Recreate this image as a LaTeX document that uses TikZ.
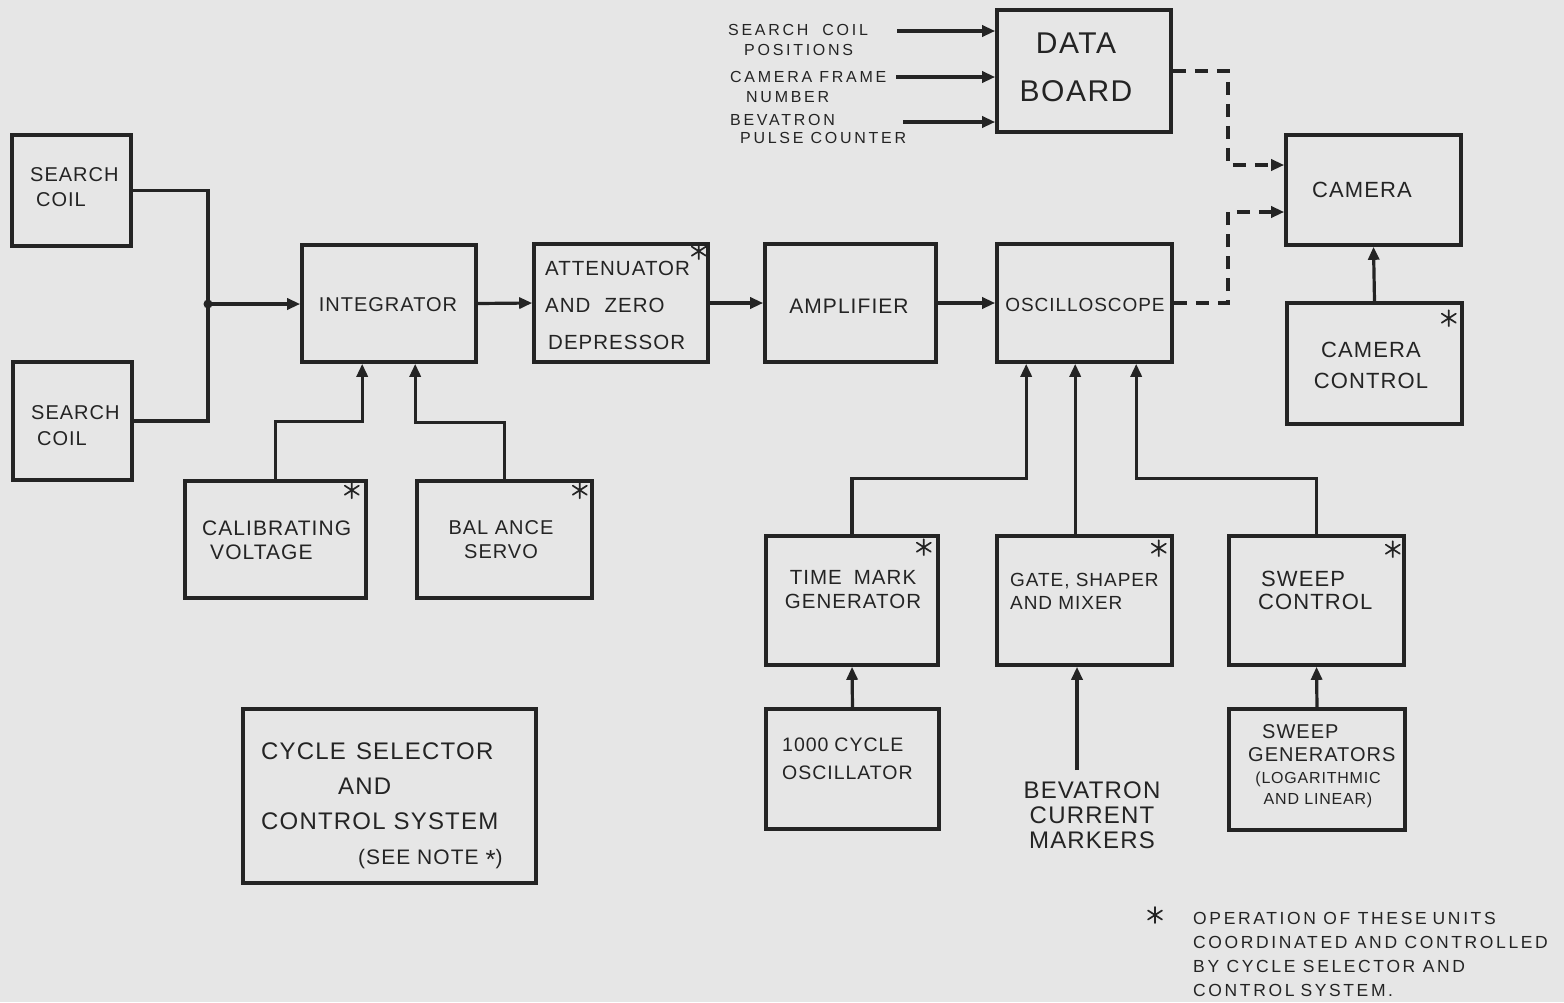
\documentclass[tikz,border=0pt]{standalone}
\usepackage{fontspec}
\setmainfont{Liberation Sans}[LetterSpace=5]
\newfontfamily\widefont{Liberation Sans}[LetterSpace=17]
\newfontfamily\notefont{Liberation Sans}[LetterSpace=15]
\usetikzlibrary{arrows.meta,calc}
\definecolor{bg}{HTML}{E6E6E6}
\definecolor{ink}{HTML}{242424}
\begin{document}
\begin{tikzpicture}[x=1pt,y=-1pt,
  box/.style={draw=ink,line width=3.6pt,rectangle,inner sep=0pt},
  txt/.style={text=ink,inner sep=0pt,align=center},
  ltxt/.style={text=ink,inner sep=0pt,align=left,anchor=west},
  wire/.style={draw=ink,line width=3.2pt},
  dwire/.style={wire,dash pattern=on 13pt off 9pt},
  >={Triangle[length=13pt,width=11pt]},
  astx/.pic={\draw[ink,line width=1.7pt,line cap=round] (0,-8)--(0,8) (-7,-4.5)--(7,4.5) (-7,4.5)--(7,-4.5);}
]
\fill[bg] (0,0) rectangle (1564,1002);
\useasboundingbox (0,0) rectangle (1564,1002);

% boxes
\node[box,minimum width=119pt,minimum height=111pt] (sc1) at (71.5,190.5) {};
\node[box,minimum width=119pt,minimum height=118pt] (sc2) at (72.5,421) {};
\node[box,minimum width=174pt,minimum height=117pt] (integ) at (389,303.5) {};
\node[box,minimum width=174pt,minimum height=118pt] (atten) at (621,303) {};
\node[box,minimum width=171pt,minimum height=118pt] (amp) at (850.5,303) {};
\node[box,minimum width=175pt,minimum height=118pt] (osc) at (1084.5,303) {};
\node[box,minimum width=174pt,minimum height=122pt] (data) at (1084,71) {};
\node[box,minimum width=175pt,minimum height=110pt] (cam) at (1373.5,190) {};
\node[box,minimum width=175pt,minimum height=121pt] (camc) at (1374.5,363.5) {};
\node[box,minimum width=181pt,minimum height=117pt] (cal) at (275.5,539.5) {};
\node[box,minimum width=175pt,minimum height=117pt] (bal) at (504.5,539.5) {};
\node[box,minimum width=172pt,minimum height=129pt] (tmg) at (852,600.5) {};
\node[box,minimum width=175pt,minimum height=129pt] (gate) at (1084.5,600.5) {};
\node[box,minimum width=175pt,minimum height=129pt] (swc) at (1316.5,600.5) {};
\node[box,minimum width=173pt,minimum height=120pt] (osck) at (852.5,769) {};
\node[box,minimum width=176pt,minimum height=121pt] (swg) at (1317,769.5) {};
\node[box,minimum width=293pt,minimum height=174pt] (cyc) at (389.5,796) {};

% box texts
\node[ltxt,font=\fontsize{20}{25}\selectfont] (sc1t) at (30,187) {SEARCH\\\hspace*{6pt}COIL};
\node[ltxt,font=\fontsize{20}{26}\selectfont] (sc2t) at (31,426) {SEARCH\\\hspace*{6pt}COIL};
\node[txt,font=\fontsize{20}{25}\selectfont] (integt) at (388,305) {INTEGRATOR};
\node[ltxt,font=\fontsize{20.5}{37}\selectfont] (attent) at (545,305) {ATTENUATOR\\AND\hspace{14pt}ZERO\\\hspace*{3pt}DEPRESSOR};
\node[txt,font=\fontsize{21}{25}\selectfont] (ampt) at (849,306) {AMPLIFIER};
\node[txt,font=\fontsize{19}{25}\selectfont] (osct) at (1085,305) {OSCILLOSCOPE};
\node[txt,font=\fontsize{30}{48}\selectfont] (datat) at (1076,67) {DATA\\BOARD};
\node[txt,font=\fontsize{22}{25}\selectfont] (camt) at (1362,190) {CAMERA};
\node[txt,font=\fontsize{22}{31}\selectfont] (camct) at (1371,365) {CAMERA\\CONTROL};
\node[ltxt,font=\fontsize{21}{24}\selectfont] (calt) at (202,540) {CALIBRATING\\\hspace*{8pt}VOLTAGE};
\node[txt,font=\fontsize{20}{24}\selectfont] (balt) at (501,540) {BAL ANCE\\SERVO};
\node[txt,font=\fontsize{20.5}{24}\selectfont] (tmgt) at (853,590) {TIME\hspace{12pt}MARK\\GENERATOR};
\node[ltxt,font=\fontsize{19}{23}\selectfont] (gatet) at (1010,591) {GATE, SHAPER\\AND MIXER};
\node[ltxt,font=\fontsize{22}{23}\selectfont] (swct) at (1258,590) {\hspace*{3pt}SWEEP\\CONTROL};
\node[ltxt,font=\fontsize{19.5}{28}\selectfont] (oscktt) at (782,759) {1000\hspace{6pt}CYCLE\\OSCILLATOR};
\node[ltxt,font=\fontsize{20}{23}\selectfont] (swgt) at (1248,743.5) {\hspace*{14pt}SWEEP\\GENERATORS};
\node[txt,font=\fontsize{16}{21}\selectfont] (swgt2) at (1318,789.5) {(LOGARITHMIC\\AND LINEAR)};
\node[ltxt,font=\fontsize{24}{35}\selectfont] (cyct) at (261,806) {CYCLE\hspace{10pt}SELECTOR\\\hspace*{77pt}AND\\CONTROL SYSTEM\\\hspace*{97pt}{\fontsize{21}{35}\selectfont(SEE NOTE \raisebox{-0.35ex}{\fontsize{26}{26}\selectfont *})}};

% free labels
\node[txt,font=\fontsize{24}{25}\selectfont] (bev) at (1092,815) {BEVATRON\\CURRENT\\MARKERS};
\node[ltxt,font=\widefont\fontsize{16}{20}\selectfont] (in1) at (728,40) {SEARCH\hspace{14pt}COIL\\\hspace*{16pt}POSITIONS};
\node[ltxt,font=\widefont\fontsize{16}{20}\selectfont] (in2) at (730,87) {CAMERA FRAME\\\hspace*{16pt}NUMBER};
\node[ltxt,font=\widefont\fontsize{16}{18}\selectfont] (in3) at (730,129) {BEVATRON\\\hspace*{10pt}PULSE COUNTER};
\node[ltxt,font=\notefont\fontsize{17.5}{24}\selectfont] (note) at (1193,954) {OPERATION OF THESE\hspace{6pt}UNITS\\COORDINATED AND CONTROLLED\\BY CYCLE SELECTOR AND\\CONTROL\hspace{6pt}SYSTEM.};

% connectors
\coordinate (j) at (208,304);
\draw[wire] (sc1.east) -| (j);
\draw[wire] (sc2.east) -| (j);
\fill[ink] (j) circle (4.5);
\draw[wire,->] (j) -- (j -| integ.west);
\draw[wire,->] (integ.east) -- (atten.west);
\draw[wire,->] (atten.east) -- (amp.west);
\draw[wire,->] (amp.east) -- (osc.west);

\coordinate (ci) at ($(integ.south west)+(62,0)$);
\coordinate (bi) at ($(integ.south west)+(115,0)$);
\draw[wire,->] (cal.north) -- ++(0,-58) -| (ci);
\draw[wire,->] (bal.north) -- ++(0,-57) -| (bi);

\coordinate (o1) at ($(osc.south west)+(31,0)$);
\coordinate (gt) at ($(gate.north west)+(80,0)$);
\coordinate (o3) at ($(osc.south west)+(141,0)$);
\draw[wire,->] (tmg.north) -- ++(0,-56) -| (o1);
\draw[wire,->] (gt) -- (gt |- osc.south);
\draw[wire,->] (swc.north) -- ++(0,-56) -| (o3);

\draw[wire,->] (osck.north) -- (tmg.south);
\draw[wire,->] (swg.north) -- (swc.south);
\coordinate (bt) at (1077,770);
\draw[wire,->] (bt) -- (bt |- gate.south);
\draw[wire,->] (camc.north) -- (cam.south);

\coordinate (d1) at (1228,212);
\coordinate (d2) at (1228,165);
\draw[dwire,->] (osc.east) -| (d1) -- (d1 -| cam.west);
\draw[dwire,->] (data.east) -| (d2) -- (d2 -| cam.west);

\coordinate (i1) at (897,31);
\coordinate (i2) at (896,77);
\coordinate (i3) at (903,122);
\draw[wire,->] (i1) -- (i1 -| data.west);
\draw[wire,->] (i2) -- (i2 -| data.west);
\draw[wire,->] (i3) -- (i3 -| data.west);

% asterisks
\pic at ($(atten.north east)+(-11,9)$) {astx};
\pic at ($(cal.north east)+(-16,11)$) {astx};
\pic at ($(bal.north east)+(-14,11)$) {astx};
\pic at ($(tmg.north east)+(-16,13)$) {astx};
\pic at ($(gate.north east)+(-15,14)$) {astx};
\pic at ($(swc.north east)+(-13,15)$) {astx};
\pic at ($(camc.north east)+(-15,17)$) {astx};
\pic at (1155,915) {astx};
\end{tikzpicture}
\end{document}
